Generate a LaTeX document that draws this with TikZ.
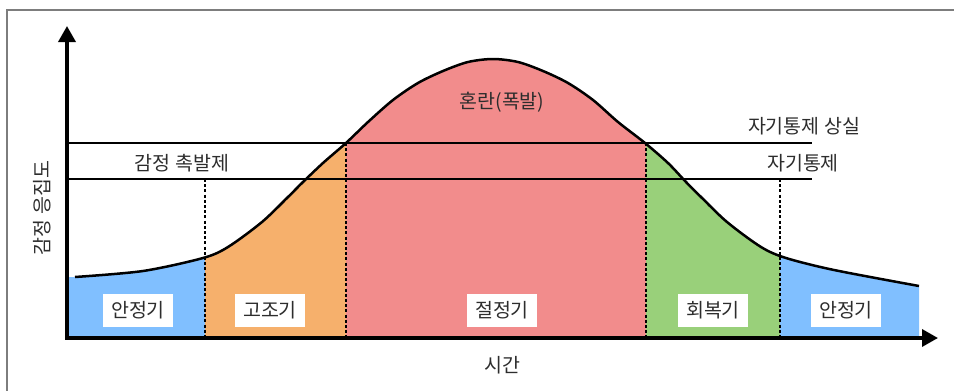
\documentclass[tikz,border=0pt]{standalone}
\usepackage{fontspec}
\setmainfont{Noto Sans CJK KR}
\usetikzlibrary{arrows.meta}
\definecolor{cblue}{RGB}{128,191,255}
\definecolor{corange}{RGB}{246,176,108}
\definecolor{cred}{RGB}{242,140,140}
\definecolor{cgreen}{RGB}{153,208,122}
\definecolor{txt}{RGB}{45,45,45}
\definecolor{framec}{RGB}{125,125,125}
\begin{document}
\begin{tikzpicture}[x=1pt,y=-1pt,
  axisline/.style={line width=3.5pt,-{Triangle[length=16pt,width=17pt]}},
  guide/.style={line width=2.2pt},
  sepline/.style={line width=2.5pt,dash pattern=on 3pt off 2.2pt},
  phase/.style={fill=white,minimum width=70pt,minimum height=33pt,inner sep=0pt,text=txt,font=\fontsize{19.5}{22}\selectfont},
  lbl/.style={text=txt,inner sep=0pt,font=\fontsize{19.5}{22}\selectfont}]
\useasboundingbox (0,0) rectangle (954,391);
% frame
\coordinate (F1) at (954,10);
\coordinate (F2) at (7,10);
\coordinate (F3) at (7,391);
\draw[framec,line width=1.5pt] (F1) -- (F2) -- (F3);
% fills
\begin{scope}
\clip (67,338) -- (67,277) -- plot[smooth] coordinates {(75,277) (143,271) (203,258) (228,247) (262,222) (288,197) (303,182) (323,163) (346,143) (368,122) (393,100) (418,83) (443,71) (468,62) (493,59) (518,62) (543,71) (568,83) (593,100) (618,122) (645,143) (668,163) (686,182) (701,197) (727,222) (761,247) (786,258) (834,270) (919,286)} -- (919,338) -- cycle;
\fill[cblue] (67,0) rectangle (205,391);
\fill[corange] (205,0) rectangle (346,391);
\fill[cred] (346,0) rectangle (646,391);
\fill[cgreen] (646,0) rectangle (780,391);
\fill[cblue] (780,0) rectangle (954,391);
\end{scope}
% curve
\draw[line width=2.5pt] plot[smooth] coordinates {(75,277) (143,271) (203,258) (228,247) (262,222) (288,197) (303,182) (323,163) (346,143) (368,122) (393,100) (418,83) (443,71) (468,62) (493,59) (518,62) (543,71) (568,83) (593,100) (618,122) (645,143) (668,163) (686,182) (701,197) (727,222) (761,247) (786,258) (834,270) (919,286)};
% threshold lines
\coordinate (H1a) at (67,143); \coordinate (H1b) at (812,143);
\coordinate (H2a) at (67,179); \coordinate (H2b) at (812,179);
\draw[guide] (H1a) -- (H1b);
\draw[guide] (H2a) -- (H2b);
% separators
\coordinate (S1t) at (205,179); \coordinate (S1b) at (205,338);
\coordinate (S2t) at (346,143); \coordinate (S2b) at (346,338);
\coordinate (S3t) at (646,143); \coordinate (S3b) at (646,338);
\coordinate (S4t) at (780,179); \coordinate (S4b) at (780,338);
\draw[sepline] (S1t) -- (S1b);
\draw[sepline] (S2t) -- (S2b);
\draw[sepline] (S3t) -- (S3b);
\draw[sepline] (S4t) -- (S4b);
% axes
\coordinate (O) at (67,338);
\coordinate (Ytop) at (67,26);
\coordinate (Xend) at (938,338);
\draw[axisline] ([yshift=-1.75pt]O) -- (Ytop);
\draw[axisline] ([xshift=-1.75pt]O) -- (Xend);
% phase labels
\node[phase] (p1) at (138,310) {안정기};
\node[phase] (p2) at (270,310) {고조기};
\node[phase] (p3) at (502,310) {절정기};
\node[phase] (p4) at (713,310) {회복기};
\node[phase] (p5) at (846,310) {안정기};
% texts
\node[lbl] (t1) at (502,102) {혼란(폭발)};
\node[lbl] (t2) at (804,126) {자기통제 상실};
\node[lbl] (t3) at (803,163) {자기통제};
\node[lbl] (t4) at (182,163) {감정 촉발제};
\node[lbl] (t5) at (502,365) {시간};
\node[lbl,rotate=90] (t6) at (42,208) {감정 응집도};
\end{tikzpicture}
\end{document}
